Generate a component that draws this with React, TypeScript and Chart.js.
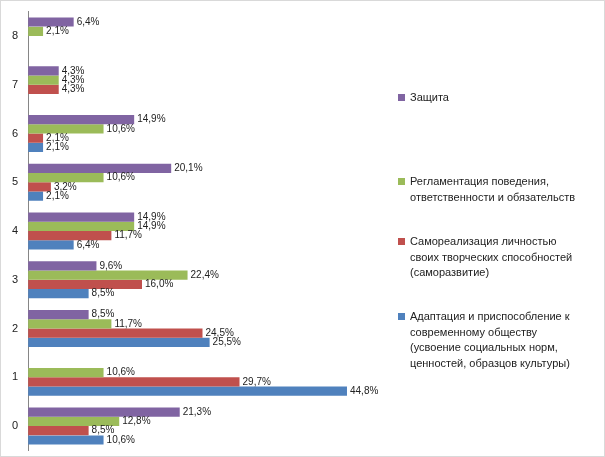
import React, { useEffect, useRef } from "react";
import { Chart, registerables } from "chart.js";
Chart.register(...registerables);

const categories = ["8", "7", "6", "5", "4", "3", "2", "1", "0"];
const protection = [6.4, 4.3, 14.9, 20.1, 14.9, 9.6, 8.5, null, 21.3];
const regulation = [2.1, 4.3, 10.6, 10.6, 14.9, 22.4, 11.7, 10.6, 12.8];
const selfReal = [null, 4.3, 2.1, 3.2, 11.7, 16.0, 24.5, 29.7, 8.5];
const adaptation = [null, null, 2.1, 2.1, 6.4, 8.5, 25.5, 44.8, 10.6];

const legendItems = [
  { color: "#8064A2", lines: ["Защита"], top: 89 },
  { color: "#9BBB59", lines: ["Регламентация поведения,", "ответственности и обязательств"], top: 173 },
  { color: "#C0504D", lines: ["Самореализация личностью", "своих творческих способностей", "(саморазвитие)"], top: 233 },
  { color: "#4F81BD", lines: ["Адаптация и приспособление к", "современному обществу", "(усвоение социальных норм,", "ценностей, образцов культуры)"], top: 308 },
];

const labelPlugin = {
  id: "vlabels",
  afterDatasetsDraw(chart: any) {
    const ctx = chart.ctx;
    ctx.save();
    ctx.font = "10px 'Liberation Sans', Arial";
    ctx.fillStyle = "#222";
    ctx.textBaseline = "middle";
    chart.data.datasets.forEach((ds: any, i: number) => {
      chart.getDatasetMeta(i).data.forEach((bar: any, j: number) => {
        const v = ds.data[j];
        if (v == null) return;
        ctx.fillText(v.toFixed(1).replace(".", ",") + "%", bar.x + 3, bar.y);
      });
    });
    ctx.restore();
  },
};

export default function App() {
  const ref = useRef<HTMLCanvasElement>(null);
  useEffect(() => {
    const mk = (label: string, data: any[], color: string) => ({
      label, data, backgroundColor: color, barPercentage: 0.98, categoryPercentage: 0.76,
    });
    const chart = new Chart(ref.current!, {
      type: "bar",
      data: {
        labels: categories,
        datasets: [
          mk("Защита", protection, "#8064A2"),
          mk("Регламентация", regulation, "#9BBB59"),
          mk("Самореализация", selfReal, "#C0504D"),
          mk("Адаптация", adaptation, "#4F81BD"),
        ],
      },
      options: {
        indexAxis: "y",
        animation: false,
        responsive: false,
        layout: { padding: { top: 6, bottom: 4, left: 1, right: 220 } },
        plugins: { legend: { display: false }, tooltip: { enabled: false } },
        scales: {
          x: { min: 0, max: 50, display: false, grid: { display: false } },
          y: {
            grid: { display: false, drawTicks: false },
            border: { color: "#868686" },
            ticks: { color: "#222", font: { size: 11, family: "'Liberation Sans', Arial" }, padding: 10 },
          },
        },
      },
      plugins: [labelPlugin],
    });
    return () => chart.destroy();
  }, []);
  return (
    <div style={{ position: "fixed", left: 0, top: 0, width: 603, height: 455, border: "1px solid #d9d9d9", background: "#fff", fontFamily: "'Liberation Sans', Arial", fontSize: 11, color: "#222", overflow: "hidden" }}>
      <canvas ref={ref} width={603} height={472} style={{ position: "absolute", left: 0, top: -6 }} />
      {legendItems.map((it, i) => (
        <div key={i} style={{ position: "absolute", left: 397, top: it.top, lineHeight: "15.5px" }}>
          <span style={{ position: "absolute", left: 0, top: 4, width: 7, height: 7, background: it.color }} />
          <div style={{ marginLeft: 12 }}>
            {it.lines.map((l, k) => <div key={k}>{l}</div>)}
          </div>
        </div>
      ))}
    </div>
  );
}
